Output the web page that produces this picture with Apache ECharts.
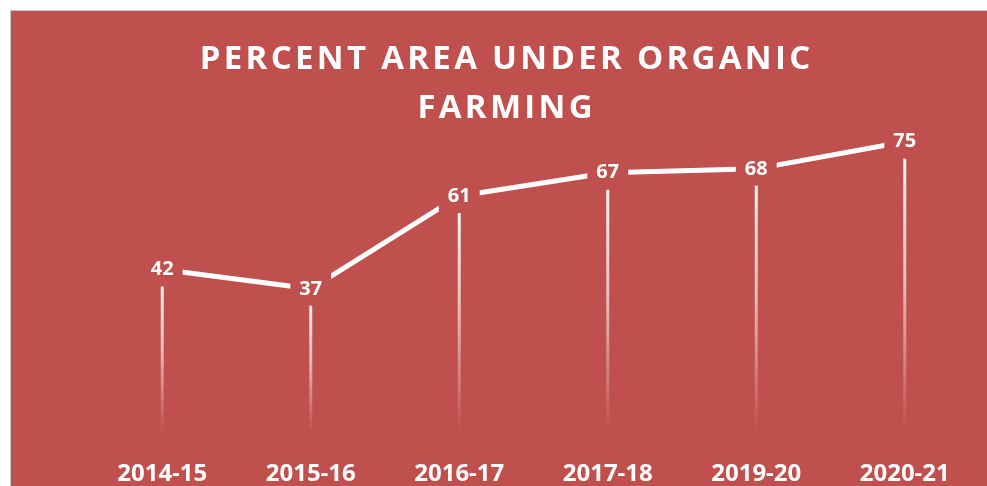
<!DOCTYPE html>
<html>
<head>
<meta charset="utf-8">
<script src="https://cdn.jsdelivr.net/npm/echarts@6/dist/echarts.min.js"></script>
<style>
  html, body { margin: 0; padding: 0; background: #fff; }
  #chart {
    position: absolute; left: 10px; top: 10px;
    width: 976px; height: 475px;
    border-left: 1px solid #c8c8c8; border-top: 1px solid #c8c8c8;
    background: #C0504D;
  }
</style>
</head>
<body>
<div id="chart"></div>
<script>
const years = ['2014-15', '2015-16', '2016-17', '2017-18', '2019-20', '2020-21'];
const percentArea = [42, 37, 61, 67, 68, 75];
const titleLines = ['PERCENT AREA UNDER ORGANIC', 'FARMING'];

const red = '#C0504D';
// spread the title letters a little with hair spaces
const spaced = s => s.split('').join('\u200A');

const chart = echarts.init(document.getElementById('chart'));

chart.setOption({
  backgroundColor: red,
  animation: false,
  title: {
    text: titleLines.map(spaced).join('\n'),
    left: 489, top: 19, textAlign: 'center',
    textStyle: {
      color: '#fff', fontFamily: 'Open Sans', fontWeight: 'bold',
      fontSize: 33, lineHeight: 49
    }
  },
  grid: { left: 77, right: 8, top: 34, bottom: 53 },
  xAxis: {
    type: 'category', data: years,
    axisLine: { show: false }, axisTick: { show: false },
    axisLabel: {
      color: '#fff', fontFamily: 'Open Sans', fontWeight: 'bold',
      fontSize: 24, margin: 30
    }
  },
  yAxis: {
    type: 'value', min: 0, max: 100,
    show: false, splitLine: { show: false }
  },
  series: [
    {
      // drop lines, fading towards the axis
      type: 'bar', data: percentArea, barWidth: 3, silent: true,
      itemStyle: {
        color: new echarts.graphic.LinearGradient(0, 0, 0, 1, [
          { offset: 0, color: 'rgba(255,255,255,1)' },
          { offset: 0.5, color: 'rgba(255,255,255,0.6)' },
          { offset: 1, color: 'rgba(255,255,255,0)' }
        ])
      }
    },
    {
      type: 'line', data: percentArea, z: 5,
      symbol: 'none',
      lineStyle: { color: '#fff', width: 5 }
    },
    {
      // data labels sitting on the points, masking the line
      type: 'scatter', data: percentArea, z: 10, silent: true,
      symbolSize: 0, itemStyle: { color: red, opacity: 1 },
      label: {
        show: true, position: 'inside', color: '#fff', opacity: 1,
        fontFamily: 'Open Sans', fontWeight: 'bold', fontSize: 20,
        backgroundColor: red, padding: [7, 9]
      }
    }
  ]
});
</script>
</body>
</html>
